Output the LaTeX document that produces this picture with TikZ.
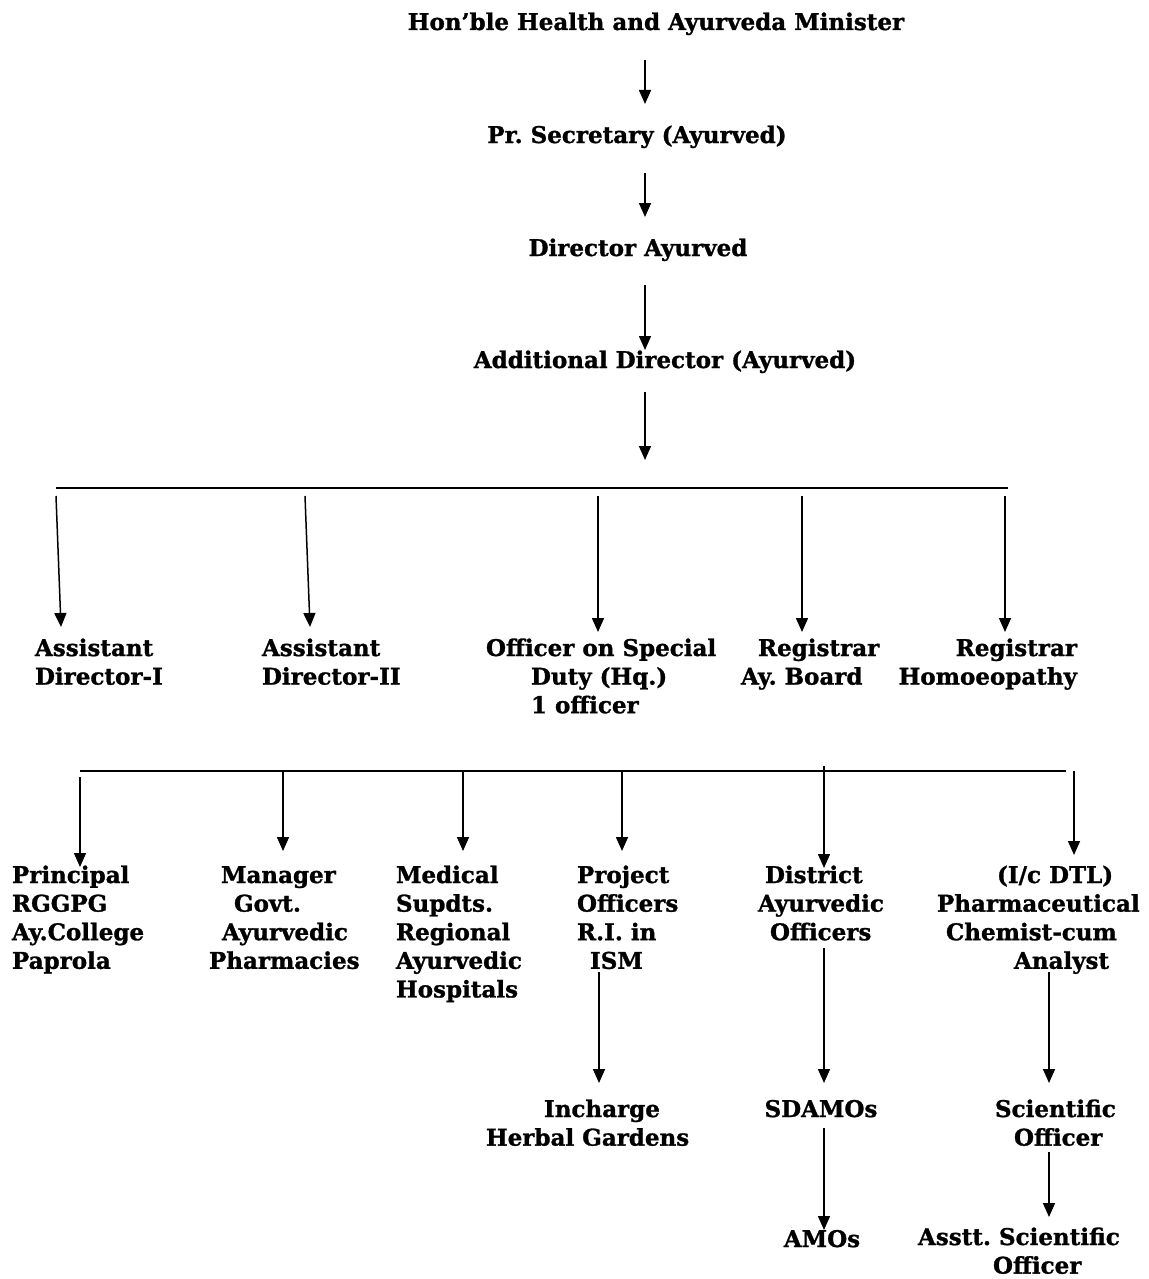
\documentclass[tikz,border=0pt]{standalone}
\usepackage{fontspec}
\setmainfont{DejaVu Serif}[BoldFeatures={FakeBold=1.2}]
\usetikzlibrary{arrows.meta}
\frenchspacing
\begin{document}
\begin{tikzpicture}[x=1pt,y=-1pt,
  lbl/.style={font=\bfseries\fontsize{23}{28.6}\selectfont, inner sep=0pt, outer sep=0pt, align=left, anchor=base west},
  clbl/.style={lbl, align=center, anchor=base},
  rlbl/.style={lbl, align=right, anchor=base east},
  arr/.style={line width=1.5pt, -{Triangle[length=14pt,width=12pt]}},
  bar/.style={line width=2.5pt},
  thinbar/.style={line width=1.1pt}]
\useasboundingbox (0,0) rectangle (1148,1279);

% top chain (anchors at baseline; multi-line nodes anchor at last line)
\node[clbl] (minister) at (656,30) {Hon’ble Health and Ayurveda Minister};
\node[clbl] (prsec) at (637,143) {Pr. Secretary (Ayurved)};
\node[clbl] (dir) at (638,256) {Director Ayurved};
\node[clbl] (adddir) at (665,368) {Additional Director (Ayurved)};

\coordinate (m1) at (645,60);  \coordinate (m2) at (645,104);
\coordinate (p1) at (645,173); \coordinate (p2) at (645,217);
\coordinate (d1) at (645,285); \coordinate (d2) at (645,350);
\coordinate (a1) at (645,392); \coordinate (a2) at (645,460);
\draw[arr] (m1) -- (m2);
\draw[arr] (p1) -- (p2);
\draw[arr] (d1) -- (d2);
\draw[arr] (a1) -- (a2);

% level 2 bar
\coordinate (barL) at (56,488); \coordinate (barR) at (1008,488);
\draw[bar] (barL) -- (barR);

\node[lbl] (ad1) at (35,684.6) {Assistant\\Director-I};
\node[lbl] (ad2) at (262,684.6) {Assistant\\Director-II};
\node[lbl] (osd) at (486,713.2) {Officer on Special\\\hspace*{45pt}Duty (Hq.)\\\hspace*{45pt}1 officer};
\node[lbl] (regay) at (741,684.6) {\hspace*{17pt}Registrar\\Ay. Board};
\node[rlbl] (reghom) at (1077,684.6) {Registrar\\Homoeopathy};

\coordinate (s1) at (56,496);  \coordinate (e1) at (61,627);
\coordinate (s2) at (305,496); \coordinate (e2) at (310,627);
\coordinate (s3) at (598,496); \coordinate (e3) at (598,632);
\coordinate (s4) at (802,496); \coordinate (e4) at (802,632);
\coordinate (s5) at (1005,496); \coordinate (e5) at (1005,632);
\draw[arr] (s1) -- (e1);
\draw[arr] (s2) -- (e2);
\draw[arr] (s3) -- (e3);
\draw[arr] (s4) -- (e4);
\draw[arr] (s5) -- (e5);

% level 3 bar
\coordinate (bar2L) at (80,771); \coordinate (bar2R) at (1066,771);
\draw[thinbar] (bar2L) -- (bar2R);

\node[lbl] (princ) at (12,968.8) {Principal\\RGGPG\\Ay.College\\Paprola};
\node[lbl] (mgr) at (209,968.8) {\hspace*{12pt}Manager\\\hspace*{25pt}Govt.\\\hspace*{13pt}Ayurvedic\\Pharmacies};
\node[lbl] (med) at (396,997.4) {Medical\\Supdts.\\Regional\\Ayurvedic\\Hospitals};
\node[lbl] (proj) at (577,968.8) {Project\\Officers\\R.I. in\\\hspace*{13pt}ISM};
\node[lbl] (dao) at (758,940.2) {\hspace*{7pt}District\\Ayurvedic\\\hspace*{12pt}Officers};
\node[lbl] (dtl) at (937,968.8) {\hspace*{60pt}(I/c DTL)\\Pharmaceutical\\\hspace*{9pt}Chemist-cum\\\hspace*{77pt}Analyst};

\coordinate (f1) at (80,777);   \coordinate (g1) at (80,867);
\coordinate (f2) at (283,771);  \coordinate (g2) at (283,851);
\coordinate (f3) at (463,771);  \coordinate (g3) at (463,851);
\coordinate (f4) at (622,771);  \coordinate (g4) at (622,851);
\coordinate (f5) at (824,766);  \coordinate (g5) at (824,868);
\coordinate (f6) at (1074,771); \coordinate (g6) at (1074,855);
\draw[arr] (f1) -- (g1);
\draw[arr] (f2) -- (g2);
\draw[arr] (f3) -- (g3);
\draw[arr] (f4) -- (g4);
\draw[arr] (f5) -- (g5);
\draw[arr] (f6) -- (g6);

% level 4
\node[lbl] (herb) at (486,1145.6) {\hspace*{58pt}Incharge\\Herbal Gardens};
\node[clbl] (sdamo) at (821,1117) {SDAMOs};
\node[lbl] (sci) at (995,1145.6) {Scientific\\\hspace*{19pt}Officer};

\coordinate (h1) at (599,972);  \coordinate (k1) at (599,1083);
\coordinate (h2) at (824,948);  \coordinate (k2) at (824,1083);
\coordinate (h3) at (1049,972); \coordinate (k3) at (1049,1083);
\draw[arr] (h1) -- (k1);
\draw[arr] (h2) -- (k2);
\draw[arr] (h3) -- (k3);

% level 5
\node[clbl] (amo) at (822,1247) {AMOs};
\node[lbl] (asci) at (918,1273.6) {Asstt. Scientific\\\hspace*{75pt}Officer};

\coordinate (q1) at (824,1128);  \coordinate (r1) at (824,1230);
\coordinate (q2) at (1049,1152); \coordinate (r2) at (1049,1217);
\draw[arr] (q1) -- (r1);
\draw[arr] (q2) -- (r2);
\end{tikzpicture}
\end{document}
